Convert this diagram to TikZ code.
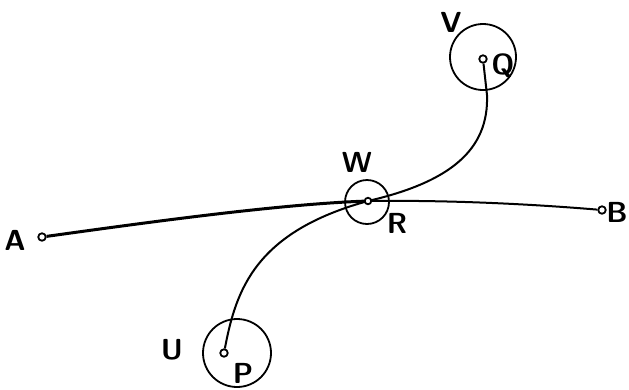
\documentclass[tikz,border=0pt]{standalone}
\begin{document}
\begin{tikzpicture}[x=1pt,y=-1pt,
  pt/.style={circle,draw,line width=1.8pt,fill=white,inner sep=0pt,minimum size=7.5pt},
  ring/.style={circle,draw,line width=1.8pt,inner sep=0pt},
  lbl/.style={font=\fontsize{29}{29}\selectfont\sffamily\bfseries,inner sep=0pt},
  thick line/.style={line width=3pt},
  thin line/.style={line width=2pt}]
\useasboundingbox (0,0) rectangle (629,389);
% rings
\node[ring,minimum size=44pt] (Wc) at (367,202) {};
\node[ring,minimum size=66pt] (Vc) at (483,57) {};
\node[ring,minimum size=68pt] (Uc) at (237,353) {};
% points
\coordinate (Rc) at (368,201);
\node[pt] (A) at (42,237) {};
\node[pt] (B) at (602,210) {};
\node[pt] (P) at (224,353) {};
\node[pt] (Q) at (483,59) {};
% connectors
\draw[thick line] (A) .. controls (150,222) and (280,204) .. (Rc);
\draw[thin line] (Rc) .. controls (450,200) and (530,204) .. (B);
\draw[thin line] (P) .. controls (236,290) and (255,232) .. (Rc);
\draw[thin line] (Rc) .. controls (450,182) and (489,150) .. (487,95) -- (Q);
\node[pt,minimum size=6.5pt] (R) at (Rc) {};
% labels
\node[lbl] (lA) at (15,240) {A};
\node[lbl] (lB) at (617,212) {B};
\node[lbl] (lW) at (357,162) {W};
\node[lbl] (lR) at (397,223) {R};
\node[lbl] (lV) at (451,22) {V};
\node[lbl] (lQ) at (503,66) {Q};
\node[lbl] (lU) at (172,350) {U};
\node[lbl] (lP) at (243,373) {P};
\end{tikzpicture}
\end{document}
